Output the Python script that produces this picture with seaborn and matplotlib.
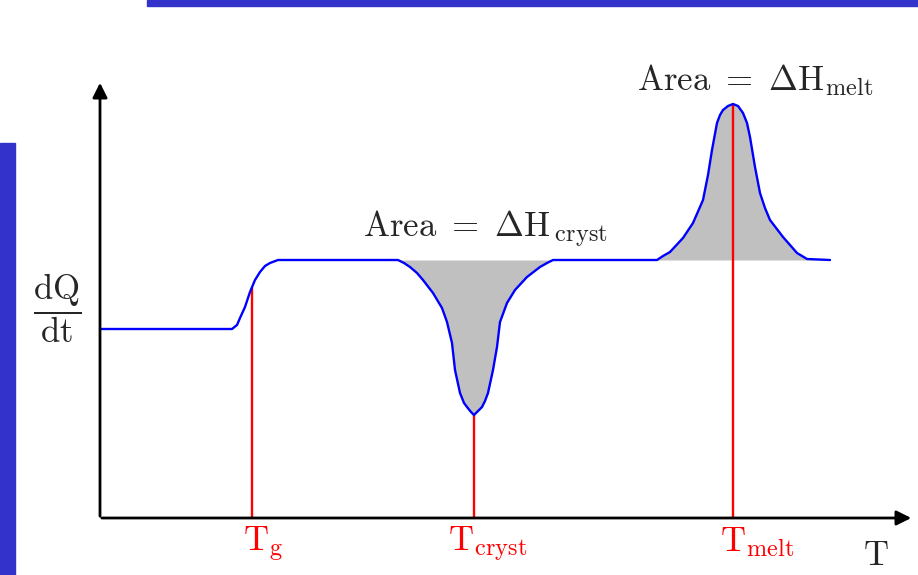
import numpy as np
import matplotlib
matplotlib.use("Agg")
import matplotlib.pyplot as plt
from matplotlib.patches import Rectangle
import seaborn as sns

# DSC curve (T from the origin, dQ/dt up from the T axis)
temp = [0, 132, 137, 140, 145, 150, 155, 160, 165, 170, 178,
        298, 304, 310, 317, 323, 333, 342, 347, 352, 355, 360, 364, 367, 371, 374,
        377, 382, 385, 388, 393, 397, 400, 407, 415, 427, 440, 447, 453,
        557, 563, 570, 583, 593, 603, 608, 612, 617, 620, 623, 628, 633,
        638, 643, 647, 650, 655, 660, 665, 670, 683, 697, 707, 730]
dqdt = [189, 189, 193, 200, 211, 226, 238, 246, 252, 255, 258,
        258, 255, 251, 245, 238, 225, 210, 196, 175, 148, 125, 115, 111, 106, 103,
        106, 111, 117, 125, 148, 171, 196, 215, 228, 241, 251, 255, 258,
        258, 262, 266, 280, 295, 318, 343, 368, 395, 403, 408, 412, 414,
        412, 405, 395, 381, 351, 325, 310, 298, 281, 265, 259, 258]
plateau = 258

# transition temperatures and where their red lines meet the curve
t_marks = [152, 374, 633]
t_tops = [230, 103, 414]
t_label_x = [163, 388, 657]
t_labels = [r"$\mathrm{T}_{\mathrm{g}}$", r"$\mathrm{T}_{\mathrm{cryst}}$", r"$\mathrm{T}_{\mathrm{melt}}$"]

sns.set_style("white")
plt.rcParams["mathtext.fontset"] = "cm"

fig = plt.figure(figsize=(9.18, 5.75), dpi=100)
ax = fig.add_axes([0, 0, 1, 1])
ax.set_xlim(-100, 818)
ax.set_ylim(-57, 518)
ax.axis("off")

# slide decoration bars
fig.patches.append(Rectangle((147 / 918, 1 - 6 / 575), 771 / 918, 6 / 575,
                             transform=fig.transFigure, color="#3333cc", zorder=0))
fig.patches.append(Rectangle((0, 0), 15 / 918, 432 / 575,
                             transform=fig.transFigure, color="#3333cc", zorder=0))

t = np.array(temp)
q = np.array(dqdt)
ax.fill_between(t, q, plateau, where=(t >= 298) & (t <= 453), color="#c0c0c0", lw=0, zorder=1)
ax.fill_between(t, q, plateau, where=(t >= 557) & (t <= 730), color="#c0c0c0", lw=0, zorder=1)

sns.lineplot(x=temp, y=dqdt, ax=ax, color="#0000ff", lw=1.7, sort=False, estimator=None, zorder=3)

for xm, top, xl, lab in zip(t_marks, t_tops, t_label_x, t_labels):
    ax.plot([xm, xm], [0, top], color="#ff0000", lw=1.7, zorder=2)
    ax.text(xl, -7, lab, color="#ff0000", fontsize=25, ha="center", va="top")

# axes with arrow heads
ax.annotate("", xy=(0, 438), xytext=(0, -1),
            arrowprops=dict(arrowstyle="-|>", color="black", lw=2, mutation_scale=22))
ax.annotate("", xy=(814, 0), xytext=(-1, 0),
            arrowprops=dict(arrowstyle="-|>", color="black", lw=2, mutation_scale=22))

ax.text(-43, 210, r"$\dfrac{\mathrm{dQ}}{\mathrm{dt}}$", fontsize=25, ha="center", va="center")
ax.text(776, -20, r"$\mathrm{T}$", fontsize=25, ha="center", va="top")
ax.text(385, 281, r"$\mathrm{Area}\ =\ \Delta\mathrm{H}_{\,\mathrm{cryst}}$", fontsize=25,
        ha="center", va="baseline")
ax.text(655, 428, r"$\mathrm{Area}\ =\ \Delta\mathrm{H}_{\mathrm{melt}}$", fontsize=25,
        ha="center", va="baseline")

fig.savefig("out.png", dpi=100)
